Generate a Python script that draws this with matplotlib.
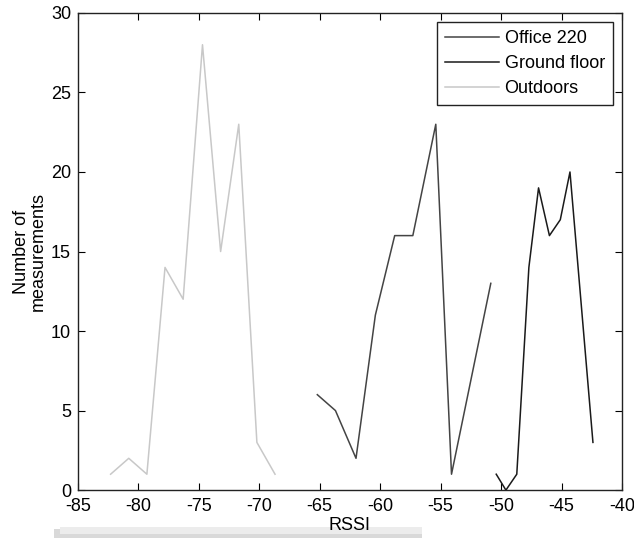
import numpy as np
import matplotlib
matplotlib.use("Agg")
import matplotlib.pyplot as plt
from matplotlib.patches import Rectangle

# RSSI bin centres and counts
office_rssi = [-65.2, -63.7, -62.0, -60.4, -58.8, -57.3, -55.4, -54.1, -50.85]
office_count = [6, 5, 2, 11, 16, 16, 23, 1, 13]

ground_rssi = [-50.4, -49.6, -48.7, -47.7, -46.9, -46.0, -45.1, -44.3, -42.4]
ground_count = [1, 0, 1, 14, 19, 16, 17, 20, 3]

outdoor_rssi = [-82.3, -80.8, -79.3, -77.8, -76.3, -74.7, -73.2, -71.7, -70.2, -68.7]
outdoor_count = [1, 2, 1, 14, 12, 28, 15, 23, 3, 1]

xticks = [-85, -80, -75, -70, -65, -60, -55, -50, -45, -40]
yticks = [0, 5, 10, 15, 20, 25, 30]

plt.rcParams["font.family"] = ["Liberation Sans Narrow", "Liberation Sans", "DejaVu Sans"]
plt.rcParams["axes.unicode_minus"] = False
fs = 13

fig = plt.figure(figsize=(6.34, 5.38), dpi=100)
ax = fig.add_axes([0.123, 0.089, 0.858, 0.887])

ax.plot(office_rssi, office_count, color="#444444", lw=1.1, label="Office 220")
ax.plot(ground_rssi, ground_count, color="#1a1a1a", lw=1.1, label="Ground floor")
ax.plot(outdoor_rssi, outdoor_count, color="#c8c8c8", lw=1.1, label="Outdoors")

ax.set_xlim(-85, -40)
ax.set_ylim(0, 30)
ax.set_xticks(xticks)
ax.set_yticks(yticks)
ax.tick_params(direction="in", top=True, right=True, labelsize=fs, length=5)
ax.tick_params(axis="x", pad=6)
ax.tick_params(axis="y", pad=5)
for s in ax.spines.values():
    s.set_linewidth(1.0)
    s.set_color("#222222")

ax.set_xlabel("RSSI", fontsize=fs, labelpad=1)
ax.set_ylabel("Number of\nmeasurements", fontsize=fs, labelpad=3, linespacing=0.95)

leg = ax.legend(loc="upper right", fontsize=fs, handlelength=3.0, fancybox=False,
                framealpha=1, edgecolor="#222222", borderaxespad=0.5,
                labelspacing=0.45, handletextpad=0.3, borderpad=0.45)
leg.get_frame().set_linewidth(1.0)

# grey band at the bottom of the scanned figure
fig.patches.append(Rectangle((0.085, 0.0), 0.58, 0.016, transform=fig.transFigure,
                             facecolor="#d9d9d9", edgecolor="none", zorder=-2))
fig.patches.append(Rectangle((0.095, 0.008), 0.57, 0.012, transform=fig.transFigure,
                             facecolor="#ececec", edgecolor="none", zorder=-1))

fig.savefig("out.png", dpi=100)
